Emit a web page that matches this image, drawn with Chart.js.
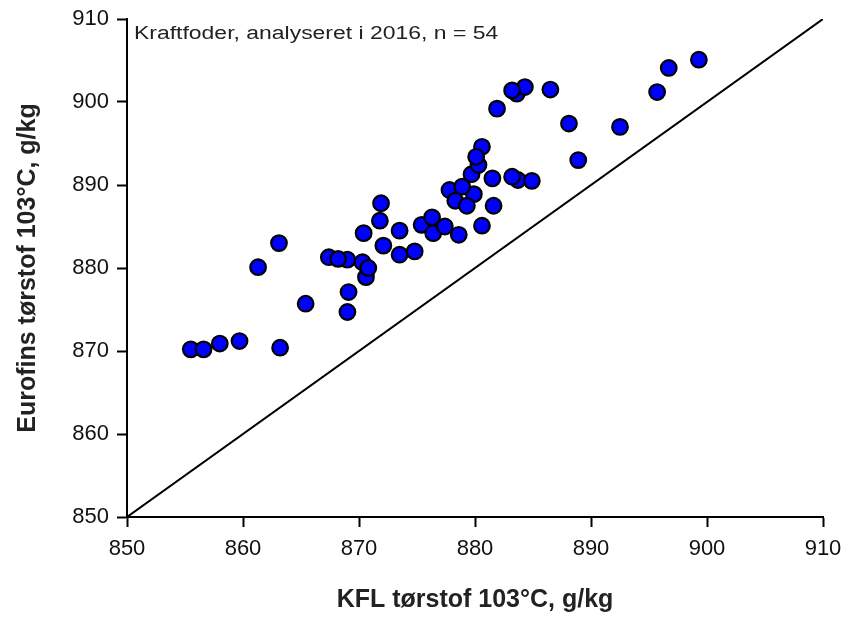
<!DOCTYPE html>
<html><head><meta charset="utf-8">
<script src="https://cdn.jsdelivr.net/npm/chart.js@4/dist/chart.umd.min.js"></script>
<style>html,body{margin:0;padding:0;background:#fff}</style>
</head><body>
<canvas id="c" width="848" height="619"></canvas>
<script>
// KFL tørstof (x) and Eurofins tørstof (y), g/kg
const kfl = [855.5, 856.6, 858.0, 859.7, 863.2, 861.3, 863.1, 865.4,
  867.4, 869.0, 870.3, 870.6, 869.1, 869.0, 868.2, 870.8,
  871.9, 871.8, 870.4, 873.5, 872.1, 873.5, 874.8, 875.4, 876.4, 877.4, 878.6, 880.6, 876.3,
  877.8, 878.3, 879.9, 879.3, 881.6, 879.7, 880.3, 880.6, 881.5, 883.7, 884.9, 878.9, 883.2, 880.1,
  881.9, 883.6, 884.3, 883.2, 886.5, 888.1, 892.5, 888.9,
  895.7, 896.7, 899.3];
const eurofins = [870.2, 870.2, 870.9, 871.2, 870.4, 880.1, 883.0, 875.7,
  881.3, 881.0, 880.7, 878.9, 877.1, 874.7, 881.1, 880.0,
  887.8, 885.7, 884.2, 884.5, 882.7, 881.6, 882.0, 885.2, 884.2, 885.0, 884.0, 885.1, 886.1,
  889.4, 888.1, 888.9, 887.5, 887.5, 891.3, 892.4, 894.6, 890.8, 890.6, 890.5, 889.8, 891.0, 893.4,
  899.2, 901.0, 901.8, 901.4, 901.5, 897.4, 897.0, 893.0,
  901.2, 904.1, 905.1];
const refLine = [850, 910];          // 1:1 line endpoints
const xTicks = [850, 860, 870, 880, 890, 900, 910];
const yTicks = [850, 860, 870, 880, 890, 900, 910];
const note = 'Kraftfoder, analyseret i 2016, n = 54';
const xTitle = 'KFL tørstof 103°C, g/kg';
const yTitle = 'Eurofins tørstof 103°C, g/kg';

const points = kfl.map((x, i) => ({x: x, y: eurofins[i]}));
const line = refLine.map(v => ({x: v, y: v}));

const notePlugin = {
  id: 'note',
  afterDatasetsDraw(chart) {
    const {ctx, chartArea} = chart;
    ctx.save();
    ctx.font = '17px "Liberation Sans", Arial, sans-serif';
    ctx.fillStyle = '#222';
    ctx.textBaseline = 'middle';
    ctx.textAlign = 'left';
    ctx.translate(chartArea.left + 7, chartArea.top + 15);
    ctx.scale(1.35, 1.05);
    ctx.fillText(note, 0, 0);
    ctx.restore();
  }
};

const tickFont = {family: '"Liberation Sans", Arial, sans-serif', size: 22};
const titleFont = {family: '"Liberation Sans", Arial, sans-serif', size: 25, weight: 'bold'};

new Chart(document.getElementById('c'), {
  type: 'scatter',
  data: {
    datasets: [
      {type: 'line', data: line, borderColor: '#000', borderWidth: 2, pointRadius: 0, fill: false, order: 2},
      {data: points, backgroundColor: '#0000FF', borderColor: '#000', borderWidth: 2.2, pointRadius: 7.8, order: 1}
    ]
  },
  options: {
    responsive: false,
    animation: false,
    devicePixelRatio: 1,
    layout: {padding: {top: 19, right: 25, bottom: 0, left: 0}},
    plugins: {legend: {display: false}, tooltip: {enabled: false}},
    scales: {
      x: {
        type: 'linear', min: 850, max: 910,
        afterBuildTicks: s => { s.ticks = xTicks.map(v => ({value: v})); },
        afterFit: s => { s.height = 102; s.paddingLeft = 0; s.paddingRight = 0; },
        grid: {display: true, drawOnChartArea: false, drawTicks: true, tickLength: 10, tickWidth: 2, color: '#000'},
        border: {display: true, color: '#000', width: 2},
        ticks: {font: tickFont, color: '#111', padding: 9, maxRotation: 0},
        title: {display: true, text: xTitle, font: titleFont, color: '#222', padding: {top: 4, bottom: 4}}
      },
      y: {
        type: 'linear', min: 850, max: 910,
        afterBuildTicks: s => { s.ticks = yTicks.map(v => ({value: v})); },
        afterFit: s => { s.width = 127; s.paddingTop = 0; s.paddingBottom = 0; },
        grid: {display: true, drawOnChartArea: false, drawTicks: true, tickLength: 10, tickWidth: 2, color: '#000'},
        border: {display: true, color: '#000', width: 2},
        ticks: {font: tickFont, color: '#111', padding: 8},
        title: {display: true, text: yTitle, font: titleFont, color: '#222', padding: {top: 13, bottom: 0}}
      }
    }
  },
  plugins: [notePlugin]
});
</script>
</body></html>
